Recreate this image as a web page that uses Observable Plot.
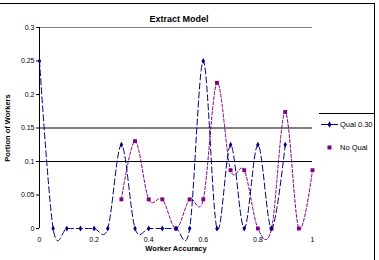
<!DOCTYPE html>
<html>
<head>
<meta charset="utf-8">
<script src="https://cdn.jsdelivr.net/npm/d3@7"></script>
<script src="https://cdn.jsdelivr.net/npm/@observablehq/plot@0.6"></script>
<style>
  html, body { margin: 0; padding: 0; background: #fff; }
  #wrap { position: relative; width: 379px; height: 260px; overflow: hidden; }
  #border { position: absolute; left: 0; top: 3px; width: 375px; height: 260px;
            border-top: 1px solid #000; border-right: 1px solid #000; box-sizing: border-box; pointer-events: none; }
</style>
</head>
<body>
<div id="wrap"><div id="border"></div></div>
<script>
const title = "Extract Model";
const xLabel = "Worker Accuracy";
const yLabel = "Portion of Workers";
const seriesNames = ["Qual 0.30", "No Qual"];

const qualX = [0, 0.05, 0.1, 0.15, 0.2, 0.25, 0.3, 0.35, 0.4, 0.45, 0.5, 0.55, 0.6, 0.65, 0.7, 0.75, 0.8, 0.85, 0.9];
const qualY = [0.25, 0, 0, 0, 0, 0, 0.125, 0, 0, 0, 0, 0, 0.25, 0, 0.125, 0, 0.125, 0, 0.125];

const noQualX = [0.3, 0.35, 0.4, 0.45, 0.5, 0.55, 0.6, 0.65, 0.7, 0.75, 0.8, 0.85, 0.9, 0.95, 1.0];
const noQualY = [0.0435, 0.1304, 0.0435, 0.0435, 0, 0.0435, 0.0435, 0.2174, 0.087, 0.087, 0, 0, 0.1739, 0, 0.087];

const xTicks = [0, 0.2, 0.4, 0.6, 0.8, 1];
const yTicks = [0, 0.05, 0.1, 0.15, 0.2, 0.25, 0.3];
const gridBlack = [0.1, 0.15];
const gridGray = [0.3];

const qual = qualX.map((x, i) => ({x, y: qualY[i]}));
const noQual = noQualX.map((x, i) => ({x, y: noQualY[i]}));

const navy = "#000080";
const purple = "#800080";

const chart = Plot.plot({
  width: 379,
  height: 260,
  marginLeft: 39,
  marginRight: 67,
  marginTop: 27,
  marginBottom: 32,
  style: { fontFamily: "'Liberation Sans', Arial, sans-serif", fontSize: "7px", background: "transparent", color: "#000" },
  x: { domain: [0, 1] },
  y: { domain: [0, 0.3] },
  marks: [
    Plot.ruleY(gridGray, { stroke: "#808080", strokeWidth: 1 }),
    Plot.ruleY(gridBlack, { stroke: "#000", strokeWidth: 1 }),
    Plot.ruleX([0], { y1: 0, y2: 0.3, stroke: "#000" }),
    Plot.axisY({ ticks: yTicks, tickSize: 3, tickPadding: 2, tickFormat: d => String(d), label: null, stroke: "#000" }),
    Plot.axisX({ ticks: xTicks, tickSize: 0, tickPadding: 9, tickFormat: d => String(d), label: null }),
    Plot.line(noQual, { x: "x", y: "y", curve: "cardinal", stroke: purple, strokeWidth: 1, strokeDasharray: "3,2" }),
    Plot.line(qual, { x: "x", y: "y", curve: "cardinal", stroke: navy, strokeWidth: 1, strokeDasharray: "6,3" }),
    Plot.dot(noQual, { x: "x", y: "y", symbol: "square", r: 2.2, fill: purple, stroke: "none" }),
    Plot.dot(qual, { x: "x", y: "y", symbol: "diamond", r: 1.8, fill: navy, stroke: "none" }),
    Plot.text([title], { frameAnchor: "top", dy: -12, dx: 3, fontWeight: "bold", fontSize: 9 }),
    Plot.text([xLabel], { frameAnchor: "bottom", dy: 22, fontWeight: "bold", fontSize: 7.5 }),
    Plot.text([yLabel], { frameAnchor: "left", textAnchor: "middle", rotate: -90, dx: -32, fontWeight: "bold", fontSize: 7.5 })
  ]
});

document.getElementById("wrap").insertBefore(chart, document.getElementById("border"));

// Legend
const svg = d3.select(chart);
const lg = svg.append("g")
  .attr("font-family", "'Liberation Sans', Arial, sans-serif")
  .attr("font-size", 7.5)
  .attr("text-anchor", "start");
lg.append("line").attr("x1", 319).attr("x2", 375).attr("y1", 113.5).attr("y2", 113.5).attr("stroke", "#000");
lg.append("line").attr("x1", 321).attr("x2", 338).attr("y1", 124.5).attr("y2", 124.5).attr("stroke", navy);
lg.append("path").attr("d", d3.symbol(d3.symbolDiamond, 12)()).attr("transform", "translate(329.5,124.5)").attr("fill", navy);
lg.append("text").attr("x", 340).attr("y", 124.5).attr("dy", "0.32em").attr("text-anchor", "start").text(seriesNames[0]);
lg.append("rect").attr("x", 327.5).attr("y", 145.5).attr("width", 4).attr("height", 4).attr("fill", purple);
lg.append("text").attr("x", 340).attr("y", 147.5).attr("dy", "0.32em").attr("text-anchor", "start").text(seriesNames[1]);
</script>
</body>
</html>
